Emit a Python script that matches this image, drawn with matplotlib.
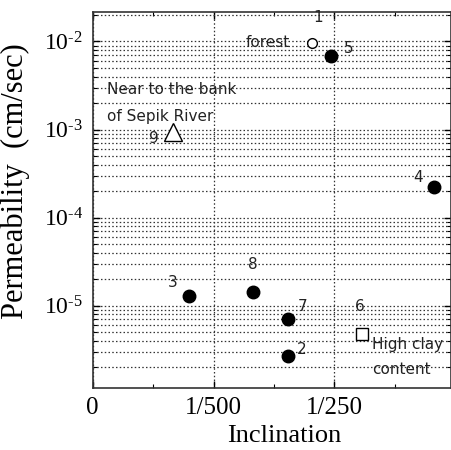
import matplotlib
matplotlib.use("Agg")
import matplotlib.pyplot as plt
from matplotlib.ticker import FixedLocator, LogLocator, NullFormatter, FixedFormatter
import numpy as np

plt.rcParams['mathtext.fontset'] = 'custom'
plt.rcParams['mathtext.rm'] = 'Liberation Serif'
plt.rcParams['mathtext.default'] = 'regular'
plt.rcParams['axes.unicode_minus'] = False

# Data (inclination, permeability cm/sec)
filled_ids = ["5", "4", "3", "8", "7", "2"]
filled_x = [0.003945, 0.00565, 0.0016, 0.00265, 0.00323, 0.00323]
filled_y = [6.9e-3, 2.25e-4, 1.3e-5, 1.42e-5, 7.05e-6, 2.7e-6]

forest_x = [0.003636]
forest_y = [9.6e-3]

sepik_x = [0.001325]
sepik_y = [9.4e-4]

clay_x = [0.00445]
clay_y = [4.8e-6]

# point number labels
label_txt = ["1", "5", "4", "9", "3", "8", "7", "2", "6"]
label_x = [0.00373, 0.00423, 0.00539, 0.00102, 0.00132, 0.00265, 0.003465, 0.003465, 0.004425]
label_y = [1.87e-2, 8.3e-3, 2.85e-4, 7.9e-4, 1.82e-5, 2.92e-5, 9.7e-6, 3.16e-6, 9.7e-6]

xticks = [0, 0.002, 0.004]
xticklabels = ["0", "1/500", "1/250"]
xminor = [0.001, 0.003, 0.005]
yticks = [1e-5, 1e-4, 1e-3, 1e-2]
yticklabels = ["10$^{\u2010 5}$", "10$^{\u2010 4}$", "10$^{\u2010 3}$", "10$^{\u2010 2}$"]

fig = plt.figure(figsize=(4.52, 4.5), dpi=100)
ax = fig.add_axes([0.205, 0.1384, 0.793, 0.836])

ax.set_yscale('log')
ax.set_xlim(0, 0.00593)
ax.set_ylim(1.17e-6, 2.19e-2)

ax.plot(filled_x, filled_y, 'o', color='black', markersize=9, zorder=3)
ax.plot(forest_x, forest_y, 'o', mfc='white', mec='black', mew=1.0, markersize=7, zorder=3)
ax.plot(sepik_x, sepik_y, '^', mfc='white', mec='black', mew=1.0, markersize=13, zorder=3)
ax.plot(clay_x, clay_y, 's', mfc='white', mec='black', mew=1.0, markersize=8, zorder=3)

tfont = dict(family='DejaVu Sans', fontsize=11, color='#222222')
for t, x, y in zip(label_txt, label_x, label_y):
    ax.text(x, y, t, ha='center', va='center', **tfont)

ax.text(0.00327, 9.75e-3, "forest", ha='right', va='center', **tfont)
ax.text(0.000237, 2.85e-3, "Near to the bank", ha='left', va='center', **tfont)
ax.text(0.000237, 1.4e-3, "of Sepik River", ha='left', va='center', **tfont)
ax.text(0.00462, 3.6e-6, "High clay", ha='left', va='center', **tfont)
ax.text(0.00462, 1.87e-6, "content", ha='left', va='center', **tfont)

# ticks
ax.xaxis.set_major_locator(FixedLocator(xticks))
ax.xaxis.set_major_formatter(FixedFormatter(xticklabels))
ax.xaxis.set_minor_locator(FixedLocator(xminor))
ax.yaxis.set_minor_locator(LogLocator(base=10, subs=np.arange(2, 10), numticks=20))
ax.yaxis.set_minor_formatter(NullFormatter())
ax.set_yticks(yticks)
ax.set_yticklabels(yticklabels)

ax.tick_params(which='both', direction='in', top=True, right=True)
ax.tick_params(which='major', length=5, width=1, pad=7, labelsize=17)
ax.tick_params(which='minor', length=3, width=0.8)
for lab in ax.get_xticklabels() + ax.get_yticklabels():
    lab.set_fontfamily('Liberation Serif')
for lab in ax.get_xticklabels():
    lab.set_fontsize(18)

ax.grid(True, which='major', axis='x', linestyle=(0, (1.2, 1.8)), color='#333333', linewidth=0.9)
ax.grid(True, which='both', axis='y', linestyle=(0, (1.2, 1.8)), color='#333333', linewidth=0.9)
ax.set_axisbelow(True)

for s in ax.spines.values():
    s.set_linewidth(1.2)
    s.set_color('#333333')

ax.set_xlabel("Inclination", family='Liberation Serif', fontsize=19)
ax.xaxis.set_label_coords(0.534, -0.1)
ax.set_ylabel("Permeability  (cm/sec)", family='Liberation Serif', fontsize=22)
ax.yaxis.set_label_coords(-0.175, 0.548)

fig.savefig("out.png", dpi=100)
